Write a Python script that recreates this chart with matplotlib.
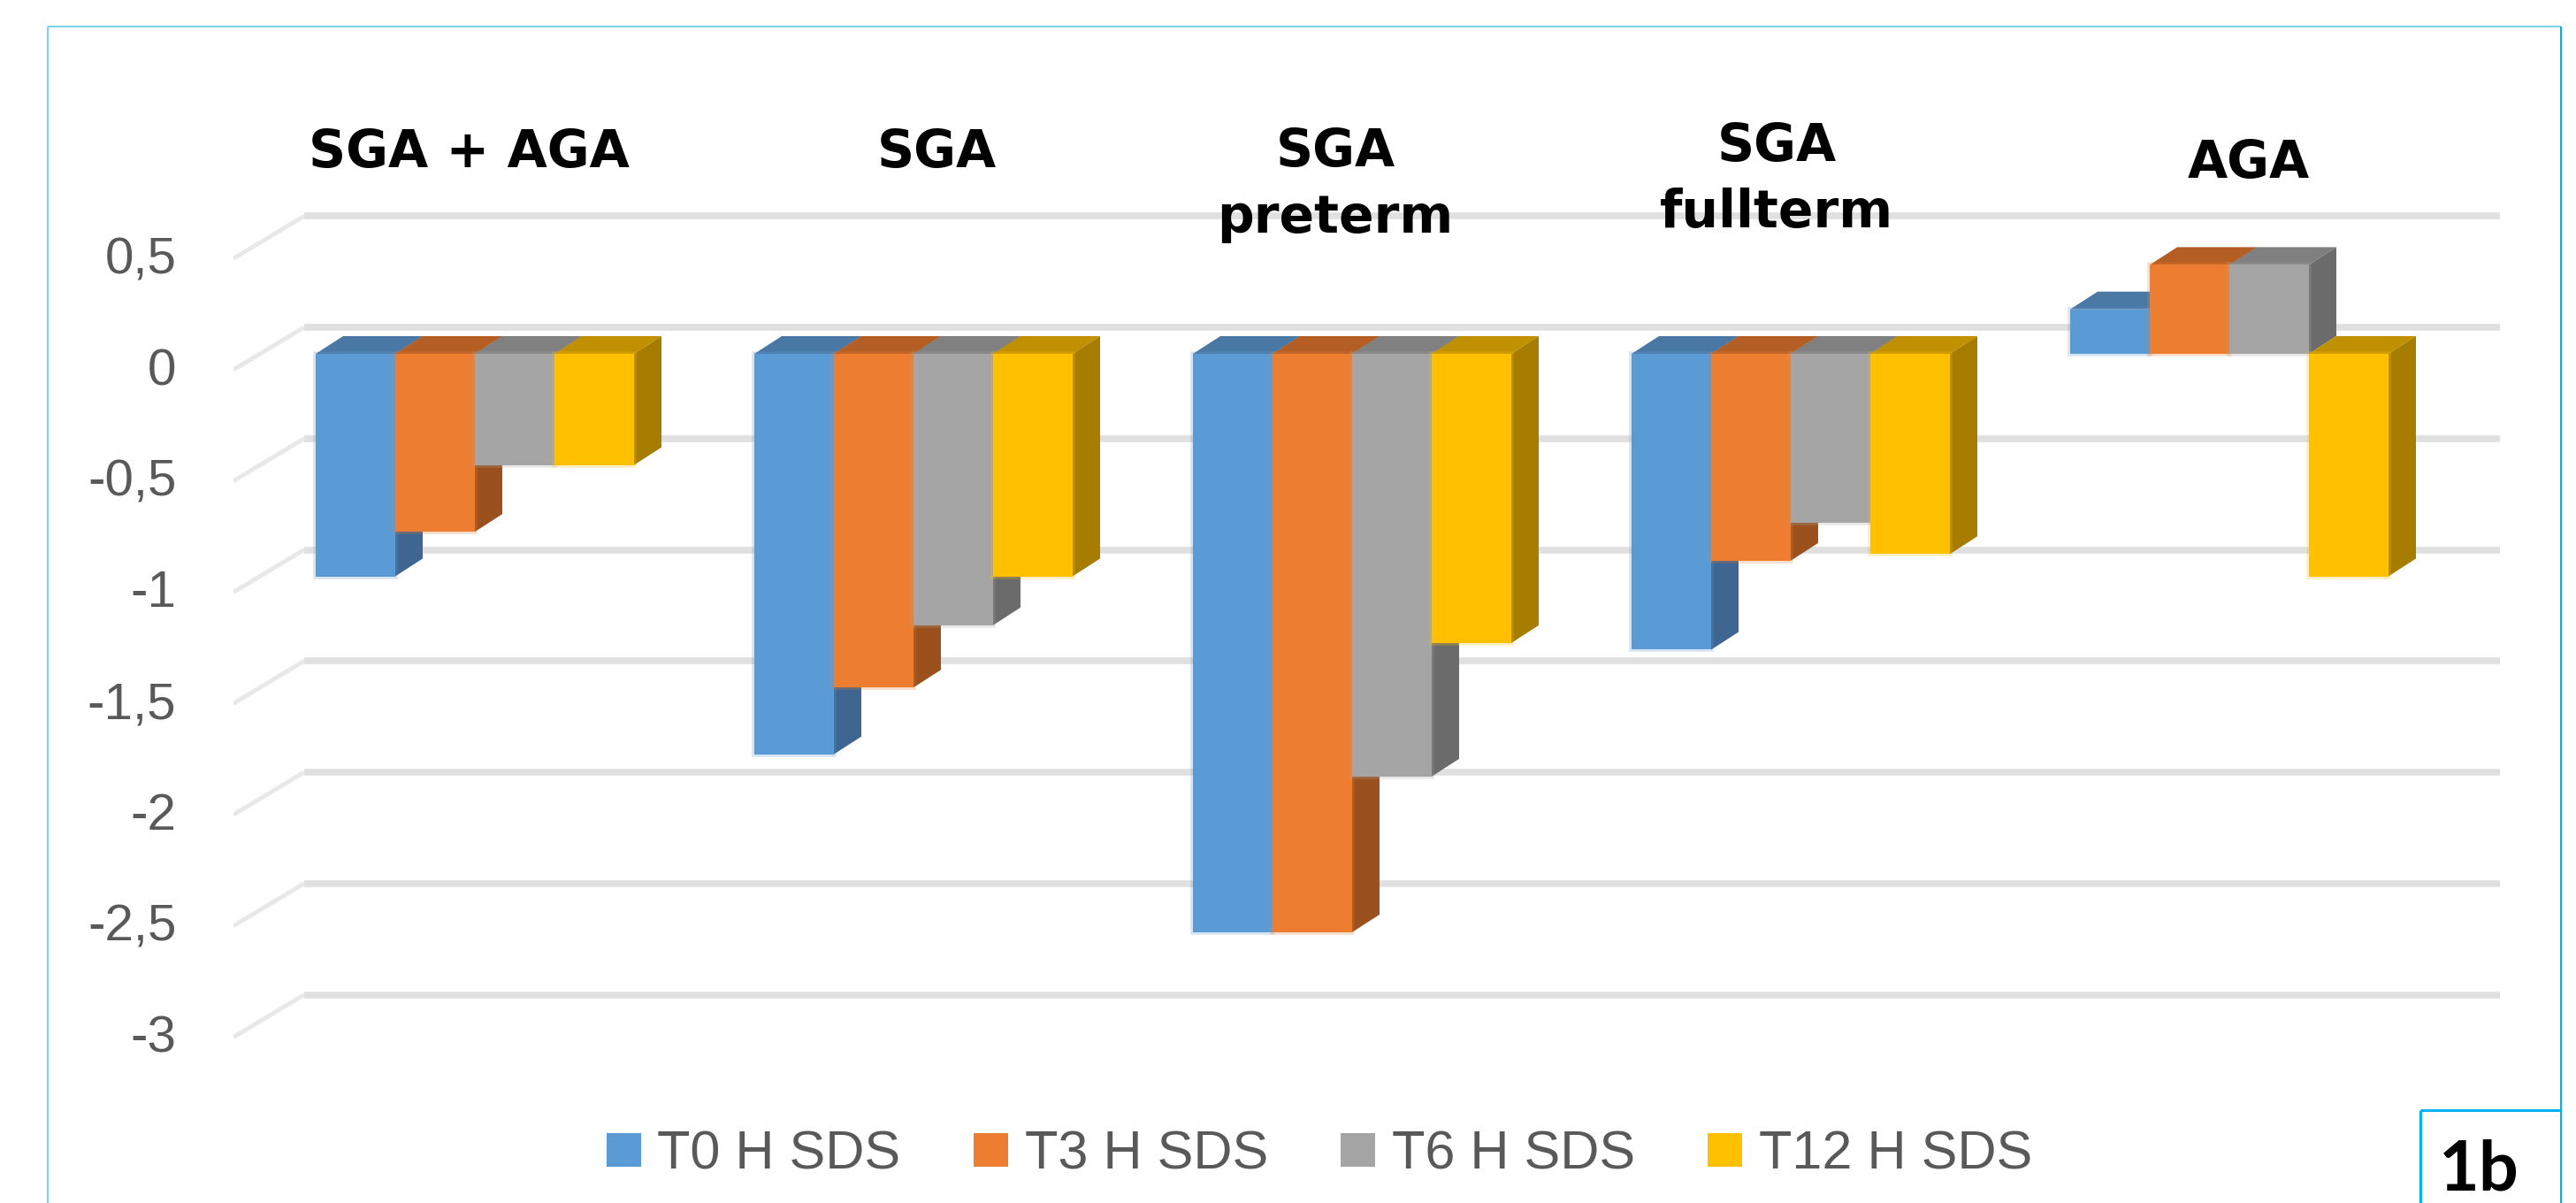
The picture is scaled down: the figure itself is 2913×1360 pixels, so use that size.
import numpy as np
import matplotlib
matplotlib.use("Agg")
import matplotlib.pyplot as plt
from matplotlib.lines import Line2D
from matplotlib.patches import Patch

plt.rcParams['font.family'] = ['Liberation Sans', 'DejaVu Sans']

# Data
groups = ["SGA + AGA", "SGA", "SGA\npreterm", "SGA\nfullterm", "AGA"]
series = ["T0 H SDS", "T3 H SDS", "T6 H SDS", "T12 H SDS"]
t0_h_sds = [-1.0, -1.8, -2.6, -1.33, 0.2]
t3_h_sds = [-0.8, -1.5, -2.6, -0.93, 0.4]
t6_h_sds = [-0.5, -1.22, -1.9, -0.76, 0.4]
t12_h_sds = [-0.5, -1.0, -1.3, -0.9, -1.0]
grid_values = [0.5, 0, -0.5, -1, -1.5, -2, -2.5, -3]
grid_labels = ["0,5", "0", "-0,5", "-1", "-1,5", "-2", "-2,5", "-3"]

# Colours: front, top, side
front_colors = ["#5B9BD5", "#ED7D31", "#A5A5A5", "#FFC000"]
top_colors = ["#4A78A5", "#B55E24", "#808080", "#C09000"]
side_colors = ["#3E6690", "#9A511D", "#6B6B6B", "#A67D00"]

W, H = 2913, 1360
PX_X = 496.0   # pixels per group
PX_Y = 251.5   # pixels per SDS unit
X0, Y0 = 537, 400  # pixel of first group centre / value 0 on the bar fronts
L, R, T, B = 264, 2827, 200, 1200

fig = plt.figure(figsize=(W / 100, H / 100), dpi=100)
ax = fig.add_axes([L / W, 1 - B / H, (R - L) / W, (B - T) / H])
ax.set_xlim((L - X0) / PX_X, (R - X0) / PX_X)
ax.set_ylim((Y0 - B) / PX_Y, (Y0 - T) / PX_Y)
ax.patch.set_alpha(0)
for s in ax.spines.values():
    s.set_visible(False)
ax.set_xticks([])

# 3D look of the old spreadsheet chart
bar_w = 90 / PX_X
depth_x = 31 / PX_X
depth_y = 20 / PX_Y
back_y = 30 / PX_Y
slant_x = 80 / PX_X
slant_y = 48 / PX_Y
label_shift = 4 / PX_Y
x_left = (L - X0) / PX_X
x_right = (R - X0) / PX_X

# grid on the back wall + slanted floor lines
for v in grid_values:
    yb = v + back_y
    ax.plot([x_left + slant_x, x_right], [yb, yb], color="#E0E0E0", lw=5.5,
            solid_capstyle="butt", zorder=0)
    ax.plot([x_left, x_left + slant_x], [yb - slant_y, yb], color="#E8E8E8", lw=3.5,
            solid_capstyle="butt", zorder=0)

ax.set_yticks([v + back_y - slant_y + label_shift for v in grid_values])
ax.set_yticklabels(grid_labels)
ax.tick_params(axis="y", length=0, pad=46.5, labelsize=42, labelcolor="#595959")

values = np.array([t0_h_sds, t3_h_sds, t6_h_sds, t12_h_sds])
x = np.arange(len(groups))
z = 2
for g in x:
    for k in range(len(series)):
        v = values[k, g]
        left = g - 2 * bar_w + k * bar_w
        right = left + bar_w
        top = max(v, 0)
        bottom = min(v, 0)
        # top face
        ax.fill([left, right, right + depth_x, left + depth_x],
                [top, top, top + depth_y, top + depth_y],
                color=top_colors[k], lw=0, zorder=z)
        # side face
        ax.fill([right, right + depth_x, right + depth_x, right],
                [bottom, bottom + depth_y, top + depth_y, top],
                color=side_colors[k], lw=0, zorder=z)
        # front face
        ax.bar(left, v, width=bar_w, align="edge", color=front_colors[k],
               edgecolor=front_colors[k] + "40", lw=4, zorder=z + 1)
        z += 2

# group titles (positions differ per group in the original)
title_x = [530, 1059, 1510, 2009, 2543]
title_y = [173, 173, 209, 203, 185]
for name, tx, ty in zip(groups, title_x, title_y):
    fig.text(tx / W, 1 - ty / H, name, ha="center", va="center", fontsize=42,
             fontweight="bold", family="DejaVu Sans", color="black", linespacing=1.38)

# legend
handles = [Patch(facecolor=c, edgecolor="none") for c in front_colors]
fig.legend(handles, series, ncol=4, loc="center left",
           bbox_to_anchor=(686 / W, 1 - 1306 / H), frameon=False,
           fontsize=44, labelcolor="#595959", borderpad=0, borderaxespad=0,
           handlelength=0.64, handleheight=0.57, handletextpad=0.3, columnspacing=1.35)

# outer frame and the "1b" box
frame_color = "#7FD3F2"
box_color = "#00B0F0"
def px_line(xs, ys, color, lw):
    fig.add_artist(Line2D([p / W for p in xs], [1 - p / H for p in ys],
                          color=color, lw=lw, solid_capstyle="butt"))

px_line([54, 54], [30, H], frame_color, 1.5)
px_line([54, 2896], [30, 30], frame_color, 1.5)
px_line([2896, 2896], [30, H], box_color, 1.5)
px_line([2737, 2737], [1255, H], box_color, 2.2)
px_line([2737, 2896], [1255, 1255], box_color, 2.2)
fig.text(2803 / W, 1 - 1346 / H, "1b", ha="center", va="baseline", fontsize=57,
         fontweight="bold", family="Lato", color="black")

fig.savefig("out.png", dpi=100)
